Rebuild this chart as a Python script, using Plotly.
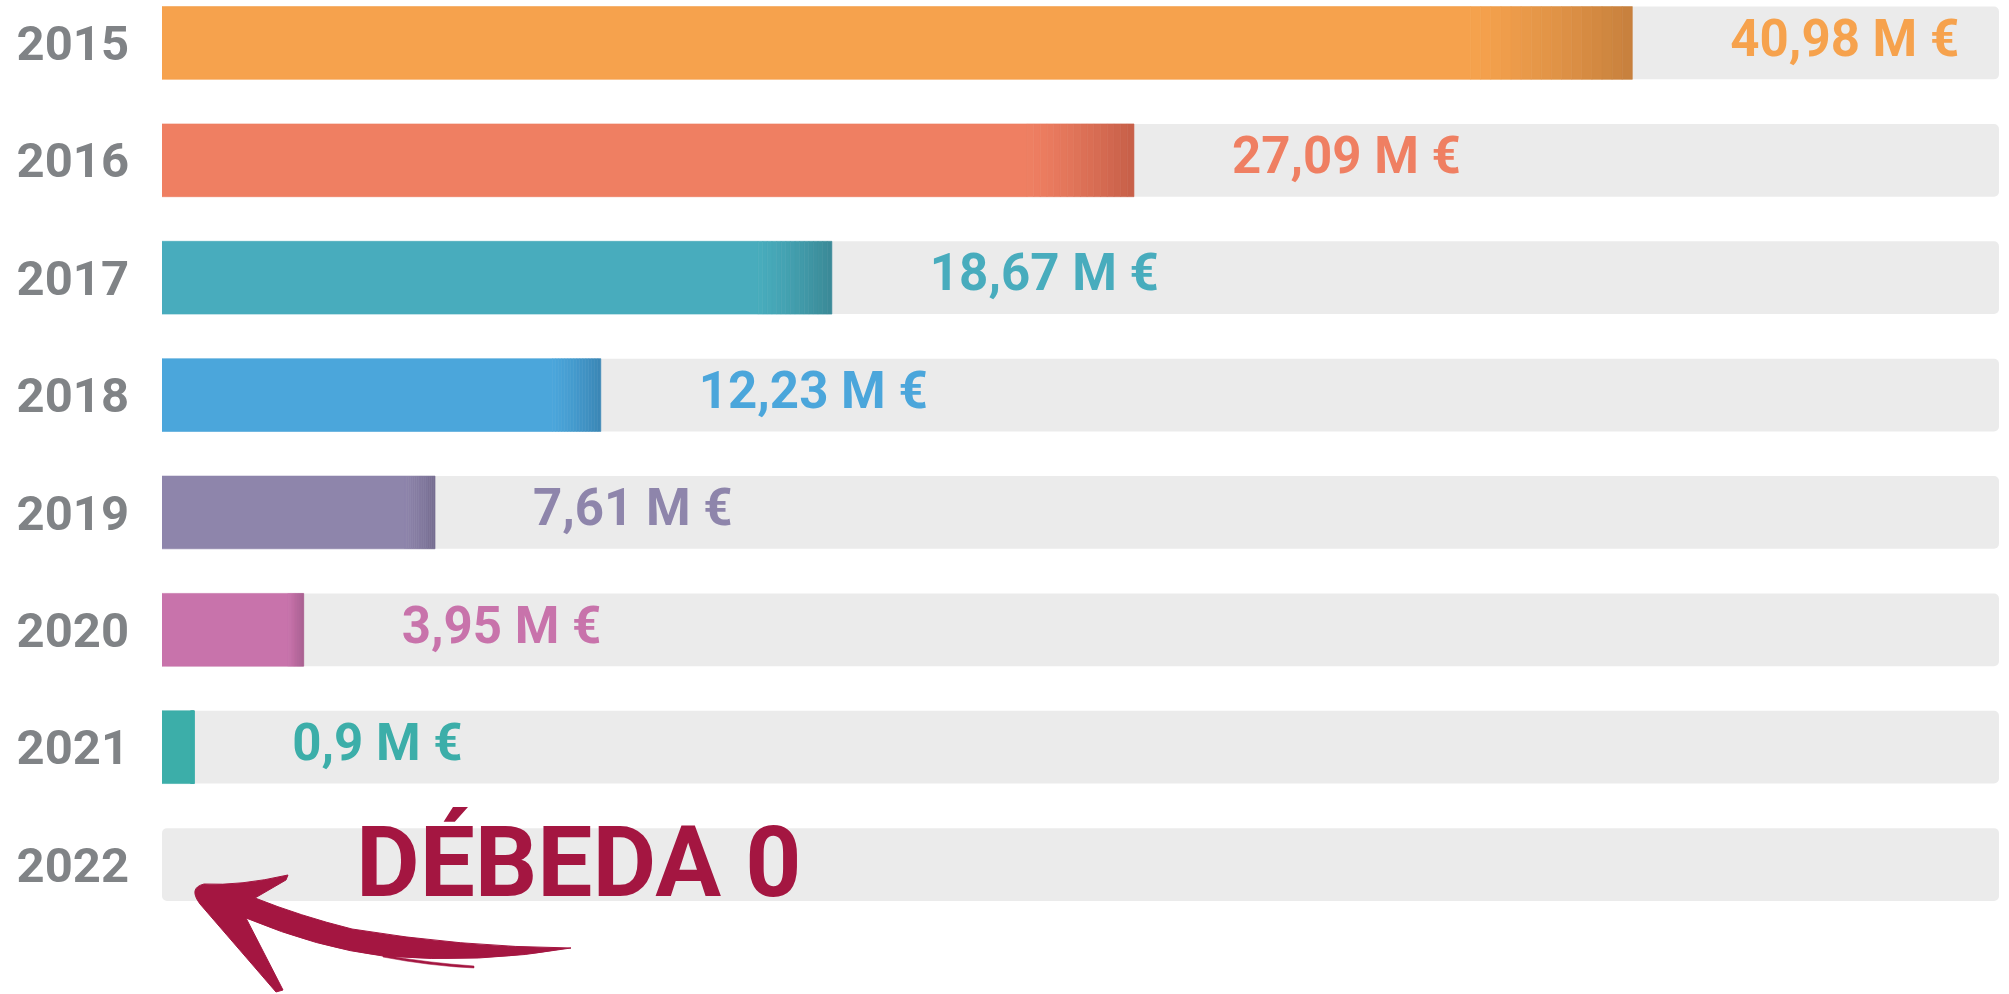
import plotly.graph_objects as go

# ---------------- data ----------------
years = ["2015", "2016", "2017", "2018", "2019", "2020", "2021", "2022"]
values = [40.98, 27.09, 18.67, 12.23, 7.61, 3.95, 0.9, 0.0]
value_labels = ["40,98 M €", "27,09 M €", "18,67 M €", "12,23 M €",
                "7,61 M €", "3,95 M €", "0,9 M €", ""]
headline = "DÉBEDA 0"

# ---------------- style ----------------
base_colors = ["#F6A24D", "#EF7F62", "#48ACBD", "#4BA6DB", "#8E85AB", "#C873AB", "#3CAEA9", "#3CAEA9"]
dark_colors = ["#C6803D", "#C65F48", "#3A8996", "#3A86B5", "#766D91", "#A65C8E", "#3CAEA9", "#3CAEA9"]
TRACK_COLOR = "#EBEBEB"
YEAR_COLOR = "#808386"
HEAD_COLOR = "#A41641"
AXIS_MAX = 51.2
GRAD_FRAC = 0.11
N_SEG = 16
BAR_W = 0.62

W, H = 2009, 994
ML, MR, MT, MB = 162, 10, 0, 0
Y_RANGE = [8.103, -0.366]
PX = AXIS_MAX / (W - ML - MR)                          # data units per pixel (x)
PY = (Y_RANGE[0] - Y_RANGE[1]) / (H - MT - MB)         # category units per pixel (y)
LABEL_GAP = 98 * PX
HEAD_X = (356 - ML) * PX
HEAD_DY = 7 * PY


def hex2rgb(h):
    h = h.lstrip("#")
    return tuple(int(h[i:i + 2], 16) for i in (0, 2, 4))


def lerp(c1, c2, t):
    a, b = hex2rgb(c1), hex2rgb(c2)
    return "rgb({},{},{})".format(*[round(a[i] + (b[i] - a[i]) * t) for i in range(3)])


fig = go.Figure()

# background tracks
fig.add_trace(go.Bar(
    y=years, x=[AXIS_MAX] * len(years), base=0, orientation="h",
    width=BAR_W, marker=dict(color=TRACK_COLOR, line=dict(width=0), cornerradius=5),
    hoverinfo="skip", showlegend=False))

# only years with a non-zero amount get a coloured bar
idx = [i for i, v in enumerate(values) if v > 0]
yb = [years[i] for i in idx]
vb = [values[i] for i in idx]
cb = [base_colors[i] for i in idx]
cd = [dark_colors[i] for i in idx]

# solid part of value bars
solid = [v * (1 - GRAD_FRAC) for v in vb]
fig.add_trace(go.Bar(
    y=yb, x=solid, base=0, orientation="h", width=BAR_W,
    marker=dict(color=cb, line=dict(width=0.6, color=cb)),
    hoverinfo="skip", showlegend=False))

# gradient end of the value bars
for k in range(N_SEG):
    t = ((k + 0.5) / N_SEG) ** 1.25
    cols = [lerp(b, d, t) for b, d in zip(cb, cd)]
    seg = [v * GRAD_FRAC / N_SEG for v in vb]
    bases = [s + k * g for s, g in zip(solid, seg)]
    fig.add_trace(go.Bar(
        y=yb, x=seg, base=bases, orientation="h", width=BAR_W,
        marker=dict(color=cols, line=dict(width=0.6, color=cols)),
        hoverinfo="skip", showlegend=False))

# value labels (text trace placed just after each bar end)
fig.add_trace(go.Scatter(
    x=[v + LABEL_GAP for v in vb], y=yb, mode="text",
    text=[value_labels[i] for i in idx], textposition="middle right",
    textfont=dict(family="Roboto", size=51, color=cb, weight="bold"),
    hoverinfo="skip", showlegend=False, cliponaxis=False))

# headline for 2022 (on a numeric twin axis so it can be nudged vertically)
fig.add_trace(go.Scatter(
    x=[HEAD_X], y=[years.index("2022") + HEAD_DY], yaxis="y2", mode="text", text=[headline],
    textposition="middle right",
    textfont=dict(family="Roboto", size=98, color=HEAD_COLOR, weight="bold"),
    hoverinfo="skip", showlegend=False, cliponaxis=False))


# decorative hand-drawn arrow (pixel geometry -> paper coords)
def P(x, y):
    return "{:.5f},{:.5f}".format((x - ML) / (W - ML - MR), 1 - (y - MT) / (H - MT - MB))


arrow = ("M " + P(200, 904) +
         " L " + P(276, 992) +
         " L " + P(283, 990) +
         " L " + P(246, 918) +
         " Q " + P(318, 948) + " " + P(383, 956) +
         " Q " + P(480, 964) + " " + P(571, 948) +
         " Q " + P(460, 947) + " " + P(352, 929) +
         " Q " + P(300, 916) + " " + P(255, 898) +
         " L " + P(286, 880) +
         " L " + P(288, 875) +
         " Q " + P(240, 886) + " " + P(204, 884) +
         " Q " + P(188, 888) + " " + P(200, 904) + " Z")
fig.add_shape(type="path", path=arrow, xref="paper", yref="paper",
              fillcolor=HEAD_COLOR, line=dict(color=HEAD_COLOR, width=1))
stroke = ("M " + P(383, 955) + " Q " + P(430, 963) + " " + P(474, 966) +
          " L " + P(474, 968) + " Q " + P(430, 966) + " " + P(383, 957) + " Z")
fig.add_shape(type="path", path=stroke, xref="paper", yref="paper",
              fillcolor=HEAD_COLOR, line=dict(color=HEAD_COLOR, width=0.5))

fig.update_layout(
    width=W, height=H,
    margin=dict(l=ML, r=MR, t=MT, b=MB),
    barmode="overlay",
    paper_bgcolor="white", plot_bgcolor="white",
    xaxis=dict(range=[0, AXIS_MAX], visible=False, fixedrange=True),
    yaxis=dict(type="category", categoryorder="array", categoryarray=years,
               range=Y_RANGE, showgrid=False, zeroline=False, showline=False,
               ticks="", ticklabelstandoff=32,
               tickfont=dict(family="Roboto", size=49, color=YEAR_COLOR, weight="bold"),
               fixedrange=True),
    yaxis2=dict(type="linear", overlaying="y", range=Y_RANGE, visible=False, fixedrange=True),
    showlegend=False,
)

fig.write_html("out.html", config={"displayModeBar": False},
               post_script="document.body.style.margin='0';document.body.style.overflow='hidden';")
